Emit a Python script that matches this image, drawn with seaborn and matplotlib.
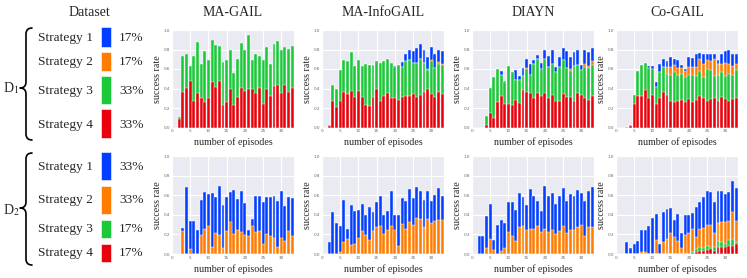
import matplotlib
matplotlib.use("Agg")
import matplotlib.pyplot as plt
from matplotlib.path import Path
from matplotlib.patches import PathPatch, Rectangle
import seaborn as sns

# ---------------- data ----------------
episodes = list(range(1, 34))
methods = ["MA-GAIL", "MA-InfoGAIL", "DIAYN", "Co-GAIL"]
strategies = ["Strategy 1", "Strategy 2", "Strategy 3", "Strategy 4"]
d1_share = ["17%", "17%", "33%", "33%"]
d2_share = ["33%", "33%", "17%", "17%"]

# cumulative success rate (top of each stacked segment), dataset D1
magail_d1_red = [0.00, 0.09, 0.36, 0.41, 0.48, 0.27, 0.35, 0.30, 0.26, 0.30, 0.47, 0.42, 0.48, 0.23, 0.26, 0.40, 0.23, 0.31, 0.41, 0.37, 0.40, 0.40, 0.35, 0.41, 0.24, 0.40, 0.32, 0.43, 0.44, 0.35, 0.44, 0.36, 0.41]
magail_d1_green = [0.00, 0.11, 0.73, 0.75, 0.63, 0.73, 0.88, 0.65, 0.78, 0.69, 0.90, 0.85, 0.84, 0.67, 0.69, 0.80, 0.56, 0.70, 0.87, 0.79, 0.95, 0.69, 0.75, 0.73, 0.69, 0.83, 0.65, 0.86, 0.89, 0.79, 0.83, 0.81, 0.84]

info_d1_red = [0.00, 0.02, 0.27, 0.21, 0.27, 0.36, 0.34, 0.37, 0.31, 0.37, 0.31, 0.23, 0.22, 0.31, 0.39, 0.27, 0.32, 0.35, 0.30, 0.30, 0.28, 0.31, 0.32, 0.32, 0.34, 0.31, 0.33, 0.36, 0.40, 0.34, 0.31, 0.36, 0.34]
info_d1_green = [0.00, 0.03, 0.44, 0.39, 0.59, 0.69, 0.68, 0.77, 0.63, 0.69, 0.63, 0.65, 0.64, 0.64, 0.68, 0.66, 0.68, 0.70, 0.66, 0.62, 0.64, 0.62, 0.68, 0.69, 0.66, 0.66, 0.70, 0.66, 0.59, 0.68, 0.61, 0.65, 0.64]
info_d1_orange = [0.00, 0.03, 0.44, 0.39, 0.59, 0.69, 0.68, 0.77, 0.63, 0.69, 0.63, 0.65, 0.64, 0.64, 0.68, 0.66, 0.68, 0.70, 0.66, 0.62, 0.64, 0.62, 0.68, 0.69, 0.66, 0.66, 0.70, 0.66, 0.60, 0.69, 0.61, 0.67, 0.65]
info_d1_blue = [0.00, 0.03, 0.44, 0.39, 0.59, 0.69, 0.68, 0.77, 0.63, 0.69, 0.63, 0.65, 0.64, 0.64, 0.68, 0.66, 0.68, 0.70, 0.66, 0.63, 0.64, 0.67, 0.75, 0.79, 0.78, 0.82, 0.86, 0.80, 0.72, 0.83, 0.75, 0.79, 0.78]

diayn_d1_red = [0, 0, 0, 0.03, 0.15, 0.10, 0.26, 0.32, 0.24, 0.24, 0.23, 0.28, 0.25, 0.38, 0.36, 0.35, 0.30, 0.35, 0.32, 0.35, 0.30, 0.33, 0.27, 0.27, 0.34, 0.31, 0.31, 0.27, 0.35, 0.33, 0.30, 0.28, 0.32]
diayn_d1_green = [0, 0, 0, 0.12, 0.41, 0.52, 0.60, 0.54, 0.47, 0.63, 0.57, 0.49, 0.49, 0.53, 0.60, 0.54, 0.65, 0.70, 0.60, 0.70, 0.62, 0.65, 0.57, 0.62, 0.69, 0.61, 0.58, 0.63, 0.64, 0.59, 0.62, 0.61, 0.64]
diayn_d1_orange = [0, 0, 0, 0.12, 0.41, 0.52, 0.60, 0.54, 0.47, 0.63, 0.57, 0.49, 0.49, 0.53, 0.61, 0.54, 0.65, 0.70, 0.60, 0.70, 0.62, 0.65, 0.57, 0.62, 0.69, 0.61, 0.60, 0.63, 0.64, 0.59, 0.65, 0.63, 0.68]
diayn_d1_blue = [0, 0, 0, 0.12, 0.41, 0.52, 0.60, 0.58, 0.48, 0.63, 0.57, 0.59, 0.53, 0.61, 0.70, 0.65, 0.69, 0.74, 0.66, 0.79, 0.73, 0.79, 0.62, 0.72, 0.82, 0.78, 0.72, 0.77, 0.80, 0.64, 0.79, 0.77, 0.82]

cogail_d1_red = [0, 0, 0, 0.015, 0.24, 0.32, 0.32, 0.38, 0.30, 0.33, 0.24, 0.30, 0.36, 0.33, 0.27, 0.26, 0.27, 0.28, 0.26, 0.29, 0.26, 0.28, 0.32, 0.30, 0.27, 0.29, 0.30, 0.27, 0.31, 0.29, 0.27, 0.29, 0.30]
cogail_d1_green = [0, 0, 0.01, 0.03, 0.33, 0.58, 0.64, 0.66, 0.61, 0.60, 0.42, 0.57, 0.62, 0.55, 0.54, 0.57, 0.54, 0.55, 0.52, 0.54, 0.54, 0.53, 0.58, 0.52, 0.60, 0.59, 0.53, 0.54, 0.57, 0.53, 0.55, 0.54, 0.59]
cogail_d1_orange = [0, 0, 0.01, 0.03, 0.33, 0.58, 0.64, 0.66, 0.61, 0.60, 0.42, 0.57, 0.62, 0.62, 0.62, 0.64, 0.61, 0.61, 0.58, 0.62, 0.62, 0.62, 0.70, 0.65, 0.69, 0.68, 0.70, 0.65, 0.65, 0.66, 0.65, 0.63, 0.65]
cogail_d1_blue = [0, 0, 0.01, 0.03, 0.33, 0.58, 0.64, 0.66, 0.63, 0.63, 0.47, 0.65, 0.70, 0.68, 0.72, 0.70, 0.69, 0.64, 0.60, 0.72, 0.71, 0.75, 0.76, 0.75, 0.75, 0.75, 0.75, 0.69, 0.75, 0.78, 0.79, 0.75, 0.75]

# cumulative success rate, dataset D2
magail_d2_orange = [0, 0, 0.23, 0, 0.05, 0, 0, 0.19, 0.26, 0.29, 0.07, 0.21, 0.19, 0.06, 0.23, 0.33, 0.20, 0.24, 0.22, 0.19, 0.18, 0.29, 0.22, 0.23, 0.10, 0.20, 0.18, 0.16, 0.07, 0.16, 0.13, 0.23, 0.18]
magail_d2_blue = [0, 0, 0.27, 0.68, 0.34, 0.34, 0.24, 0.55, 0.63, 0.61, 0.62, 0.58, 0.69, 0.50, 0.58, 0.63, 0.65, 0.56, 0.64, 0.52, 0.24, 0.36, 0.59, 0.59, 0.53, 0.58, 0.58, 0.59, 0.54, 0.64, 0.49, 0.58, 0.57]

info_d2_orange = [0, 0, 0, 0, 0.02, 0.12, 0.15, 0.09, 0.10, 0.16, 0.23, 0.19, 0.14, 0.23, 0.28, 0.29, 0.20, 0.25, 0.29, 0.24, 0.08, 0.31, 0.26, 0.33, 0.30, 0.37, 0.36, 0.28, 0.36, 0.32, 0.34, 0.35, 0.35]
info_d2_blue = [0, 0.12, 0.43, 0.32, 0.29, 0.55, 0.26, 0.50, 0.44, 0.45, 0.51, 0.40, 0.48, 0.43, 0.53, 0.59, 0.40, 0.44, 0.64, 0.40, 0.40, 0.57, 0.54, 0.66, 0.57, 0.68, 0.64, 0.55, 0.64, 0.54, 0.60, 0.67, 0.59]

diayn_d2_orange = [0, 0, 0, 0.06, 0.15, 0.04, 0, 0.03, 0.06, 0.22, 0.18, 0.13, 0.28, 0.29, 0.24, 0.26, 0.26, 0.29, 0.22, 0.26, 0.22, 0.25, 0.20, 0.23, 0.29, 0.21, 0.25, 0.25, 0.28, 0.30, 0.18, 0.28, 0.28]
diayn_d2_blue = [0, 0.18, 0.18, 0.39, 0.51, 0.14, 0.30, 0.35, 0.32, 0.53, 0.53, 0.45, 0.62, 0.58, 0.50, 0.66, 0.59, 0.54, 0.44, 0.69, 0.59, 0.62, 0.51, 0.59, 0.67, 0.54, 0.61, 0.59, 0.65, 0.62, 0.54, 0.64, 0.68]

cogail_d2_red = [0, 0, 0, 0, 0, 0, 0, 0, 0, 0, 0, 0, 0, 0, 0, 0, 0, 0, 0, 0, 0.01, 0.02, 0.03, 0.03, 0.04, 0.05, 0.03, 0.07, 0.07, 0.07, 0.08, 0.08, 0.10]
cogail_d2_green = [0, 0, 0, 0, 0, 0, 0, 0, 0, 0, 0, 0, 0, 0, 0, 0, 0, 0.01, 0, 0, 0.02, 0.05, 0.07, 0.06, 0.08, 0.07, 0.07, 0.13, 0.12, 0.10, 0.14, 0.15, 0.12]
cogail_d2_orange = [0, 0, 0, 0, 0, 0, 0.02, 0.02, 0, 0, 0.14, 0, 0.12, 0.15, 0.21, 0.17, 0.13, 0.06, 0.19, 0.21, 0.26, 0.17, 0.26, 0.27, 0.30, 0.30, 0.21, 0.32, 0.33, 0.33, 0.34, 0.43, 0.34]
cogail_d2_blue = [0, 0, 0.12, 0.06, 0.10, 0.13, 0.25, 0.24, 0.29, 0.37, 0.41, 0.10, 0.43, 0.46, 0.47, 0.35, 0.41, 0.21, 0.40, 0.40, 0.42, 0.48, 0.53, 0.58, 0.64, 0.63, 0.53, 0.64, 0.64, 0.61, 0.63, 0.74, 0.67]

# ---------------- style ----------------
BLUE, ORANGE, GREEN, RED = "#023EFF", "#FF7C00", "#1AC938", "#E8000B"
strategy_colors = [BLUE, ORANGE, GREEN, RED]

sns.set_style("darkgrid")
plt.rcParams["font.family"] = ["Liberation Serif", "DejaVu Serif"]
plt.rcParams["mathtext.fontset"] = "stix"

W, H = 747, 278
fig = plt.figure(figsize=(W / 100, H / 100), dpi=100)


def fx(x):
    return x / W


def fy(y):
    return 1 - y / H


panels = [
    [(GREEN, magail_d1_green), (RED, magail_d1_red)],
    [(BLUE, info_d1_blue), (ORANGE, info_d1_orange), (GREEN, info_d1_green), (RED, info_d1_red)],
    [(BLUE, diayn_d1_blue), (ORANGE, diayn_d1_orange), (GREEN, diayn_d1_green), (RED, diayn_d1_red)],
    [(BLUE, cogail_d1_blue), (ORANGE, cogail_d1_orange), (GREEN, cogail_d1_green), (RED, cogail_d1_red)],
    [(BLUE, magail_d2_blue), (ORANGE, magail_d2_orange)],
    [(BLUE, info_d2_blue), (ORANGE, info_d2_orange)],
    [(BLUE, diayn_d2_blue), (ORANGE, diayn_d2_orange)],
    [(BLUE, cogail_d2_blue), (ORANGE, cogail_d2_orange), (GREEN, cogail_d2_green), (RED, cogail_d2_red)],
]

cols = [(172, 294), (322, 444), (472, 594), (616, 738)]
rows = [(30, 127.5), (156, 254)]

for r, (top, bot) in enumerate(rows):
    for c, (left, right) in enumerate(cols):
        ax = fig.add_axes([fx(left), fy(bot), (right - left) / W, (bot - top) / H])
        for color, vals in panels[r * 4 + c]:
            sns.barplot(x=episodes, y=vals, native_scale=True, color=color,
                        saturation=1, width=0.8, errorbar=None,
                        edgecolor="white", linewidth=0.3, ax=ax)
        ax.set_xlim(0, 33.5)
        ax.set_ylim(0, 1.0)
        ax.set_xticks([0, 5, 10, 15, 20, 25, 30])
        ax.set_yticks([0.0, 0.2, 0.4, 0.6, 0.8, 1.0])
        ax.set_yticklabels(["0.0", "0.2", "0.4", "0.6", "0.8", "1.0"])
        ax.tick_params(labelsize=3, labelcolor="#666666", pad=1.2, length=0)
        for lab in ax.get_xticklabels() + ax.get_yticklabels():
            lab.set_family("DejaVu Sans")
        ax.set_ylabel("success rate", fontsize=7.2)
        ax.yaxis.label.set_va("center")
        ax.yaxis.set_label_coords(-14 / (right - left), 0.5)
        ax.set_xlabel("number of episodes", fontsize=7.2)
        ax.xaxis.label.set_va("center")
        ax.xaxis.set_label_coords(0.5, -(14.5 if r == 0 else 15) / (bot - top))
        if r == 0:
            fig.text(fx((left + right) / 2), fy(13), methods[c], ha="center",
                     va="center", fontsize=10)

# ---------------- left legend block ----------------
fig.text(fx(89), fy(12), "Dataset", ha="center", va="center", fontsize=10)


def brace(x_end, x_spine, x_tip, y0, ym, y1, rad):
    pts = [(x_end, y0), (x_spine, y0), (x_spine, y0 + rad), (x_spine, ym - rad),
           (x_spine, ym), (x_tip, ym), (x_spine, ym), (x_spine, ym + rad),
           (x_spine, y1 - rad), (x_spine, y1), (x_end, y1)]
    codes = [Path.MOVETO, Path.CURVE3, Path.CURVE3, Path.LINETO,
             Path.CURVE3, Path.CURVE3, Path.CURVE3, Path.CURVE3,
             Path.LINETO, Path.CURVE3, Path.CURVE3]
    verts = [(fx(x), fy(y)) for x, y in pts]
    fig.add_artist(PathPatch(Path(verts, codes), transform=fig.transFigure,
                             facecolor="none", edgecolor="black", lw=1.2,
                             capstyle="round", joinstyle="round"))


brace(32, 26, 20, 28, 88, 140, 6)
brace(32, 26, 20, 153, 208, 265, 6)
fig.text(fx(3), fy(88), "D$_1$", ha="left", va="center", fontsize=10)
fig.text(fx(3), fy(210), "D$_2$", ha="left", va="center", fontsize=10)

d1_rows = [38, 62, 91, 125]
d1_boxes = [(27.5, 46.5), (52, 70.5), (76, 104), (109.5, 137.5)]
d2_rows = [167, 200, 229, 253]
d2_boxes = [(152, 180), (186, 214), (220, 238), (243.5, 262)]

for rows_y, boxes, shares in [(d1_rows, d1_boxes, d1_share), (d2_rows, d2_boxes, d2_share)]:
    for name, y, (b0, b1), share, col in zip(strategies, rows_y, boxes, shares, strategy_colors):
        fig.text(fx(38), fy(y), name, ha="left", va="center", fontsize=9.6)
        fig.text(fx(119), fy(y), share, ha="left", va="center", fontsize=9.6)
        fig.add_artist(Rectangle((fx(101), fy(b1)), 10.5 / W, (b1 - b0) / H,
                                 transform=fig.transFigure, facecolor=col,
                                 edgecolor="white", lw=0.4))

fig.savefig("out.png", dpi=100)
